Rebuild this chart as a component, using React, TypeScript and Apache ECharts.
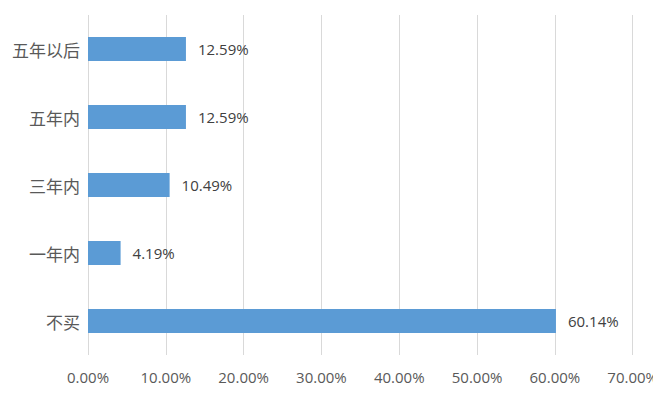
import React, { useEffect, useRef } from "react";
import * as echarts from "echarts";

const categories = ["不买", "一年内", "三年内", "五年内", "五年以后"];
const values = [60.14, 4.19, 10.49, 12.59, 12.59];
const xTicks = [0, 10, 20, 30, 40, 50, 60, 70];

export default function App() {
  const ref = useRef<HTMLDivElement>(null);
  useEffect(() => {
    const chart = echarts.init(ref.current!, null, { renderer: "svg" });
    chart.setOption({
      animation: false,
      grid: { left: 88, right: 28, top: 15, bottom: 43, containLabel: false },
      xAxis: {
        type: "value",
        min: xTicks[0],
        max: xTicks[xTicks.length - 1],
        interval: 10,
        axisLine: { show: false },
        axisTick: { show: false },
        splitLine: { show: true, lineStyle: { color: "#d9d9d9", width: 1 } },
        axisLabel: {
          formatter: (v: number) => v.toFixed(2) + "%",
          color: "#595959",
          fontSize: 15,
          fontFamily: "Open Sans, Noto Sans, sans-serif",
          margin: 14,
        },
      },
      yAxis: {
        type: "category",
        data: categories,
        axisLine: { show: false },
        axisTick: { show: false },
        axisLabel: {
          color: "#595959",
          fontSize: 17,
          fontFamily: "Noto Sans CJK SC, sans-serif",
          margin: 8,
        },
      },
      series: [
        {
          type: "bar",
          data: values,
          barWidth: 24,
          itemStyle: { color: "#5b9bd5" },
          label: {
            show: true,
            position: "right",
            distance: 12,
            formatter: (p: any) => p.value.toFixed(2) + "%",
            color: "#404040",
            fontSize: 15,
            fontFamily: "Open Sans, Noto Sans, sans-serif",
          },
        },
      ],
    });
    return () => chart.dispose();
  }, []);
  return <div ref={ref} style={{ width: 661, height: 398, margin: -8, background: "#fff" }} />;
}
